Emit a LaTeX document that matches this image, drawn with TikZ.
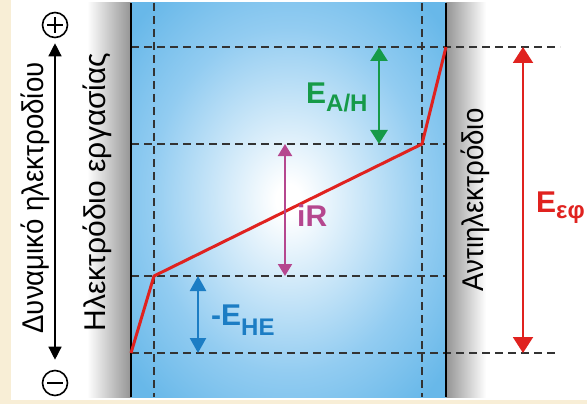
\documentclass[tikz,border=0pt]{standalone}
\usepackage{fontspec}
\setmainfont{Liberation Sans}
\newfontfamily\narrowfont{Liberation Sans}[FakeStretch=0.92]
\usetikzlibrary{arrows.meta}
\definecolor{cream}{RGB}{248,238,214}
\definecolor{cellblue}{RGB}{104,184,233}
\definecolor{cellmid}{RGB}{146,204,241}
\definecolor{linered}{RGB}{224,34,31}
\definecolor{ahgreen}{RGB}{22,154,72}
\definecolor{irpink}{RGB}{181,71,143}
\definecolor{heblue}{RGB}{28,125,196}
\pgfdeclareradialshading{cellglow}{\pgfpoint{0bp}{0bp}}{color(0bp)=(white); color(2bp)=(white); color(22bp)=(cellmid); color(33bp)=(cellblue); color(50bp)=(cellblue)}
\newcommand\esub[3][9pt]{#2\raisebox{-#1}{\fontsize{24}{24}\selectfont #3}}

\begin{document}
\begin{tikzpicture}[x=1pt,y=-1pt,
    level/.style={black!80,line width=1.8pt,dash pattern=on 8pt off 5pt},
    electrode/.style={line width=2pt},
    sign/.style={circle,draw,line width=1.6pt,minimum size=25pt,inner sep=0pt},
    span/.style={line width=#1},
    big/.style={font=\fontsize{30}{30}\selectfont\bfseries,inner sep=0pt,anchor=base west},
    side/.style={font=\fontsize{30}{30}\selectfont,rotate=90,anchor=base,inner sep=0pt}]
  \useasboundingbox (0,0) rectangle (587,404);
  % paper and panel
  \fill[cream] (0,0) rectangle (587,404);
  \fill[white] (11,0) rectangle (587,400);
  \shade[shading=cellglow] (131,3) rectangle (446,397);
  \shade[left color=white,right color=black!42] (87,3) rectangle (131,397);
  \shade[left color=black!42,right color=white] (446,3) rectangle (486,397);
  % levels
  \coordinate (we) at (131,353);
  \coordinate (wk) at (154,276);
  \coordinate (ck) at (422,144);
  \coordinate (ce) at (446,47);
  \foreach \x in {154,422} { \draw[level] (\x,3) -- (\x,397); }
  \draw[level] (131,47) -- (560,47);
  \draw[level] (131,353) -- (557,353);
  \foreach \y in {144,276} { \draw[level] (131,\y) -- (446,\y); }
  \draw[electrode] (131,3) -- (131,397);
  \draw[electrode] (446,3) -- (446,397);
  % potential profile
  \draw[linered,line width=3pt,line join=round] (we) -- (wk) -- (ck) -- (ce);
  % spans
  \coordinate (ga) at (379,47);  \coordinate (gb) at (379,144);
  \coordinate (ma) at (285,144); \coordinate (mb) at (285,276);
  \coordinate (ba) at (198,276); \coordinate (bb) at (198,353);
  \coordinate (ra) at (523,47);  \coordinate (rb) at (523,353);
  \draw[ahgreen,span=2.6pt,{Triangle[width=17pt,length=14pt]}-{Triangle[width=17pt,length=14pt]}] (ga) -- (gb);
  \draw[irpink,span=2pt,{Triangle[width=14pt,length=12pt]}-{Triangle[width=14pt,length=12pt]}] (ma) -- (mb);
  \draw[heblue,span=2.4pt,{Triangle[width=16pt,length=15pt]}-{Triangle[width=16pt,length=15pt]}] (ba) -- (bb);
  \draw[linered,span=2pt,{Triangle[width=20pt,length=16pt]}-{Triangle[width=20pt,length=16pt]}] (ra) -- (rb);
  \node[big,ahgreen] (eah) at (306,103) {\esub{E}{A/H}};
  \node[big,irpink] (ir) at (297,226) {iR};
  \node[big,heblue] (ehe) at (211,325) {\esub[10pt]{-E}{HE}};
  \node[big,linered] (eef) at (536,212) {\esub[6pt]{E}{εφ}};
  % potential axis
  \node[sign] (pos) at (55,25) {};
  \node[sign] (neg) at (55,383) {};
  \draw[line width=1.6pt] ([xshift=-8pt]pos.center) -- ([xshift=8pt]pos.center);
  \draw[line width=1.6pt] ([yshift=-8pt]pos.center) -- ([yshift=8pt]pos.center);
  \draw[line width=1.6pt] ([xshift=-8pt]neg.center) -- ([xshift=8pt]neg.center);
  \draw[line width=1.4pt,{Triangle[width=13pt,length=13pt]}-{Triangle[width=13pt,length=13pt]}] ([yshift=-5pt]pos.south) -- ([yshift=10pt]neg.north);
  \node[side,font=\fontsize{30}{30}\narrowfont] (pot) at (43,198) {Δυναμικό ηλεκτροδίου};
  \node[side] (work) at (105,192) {Ηλεκτρόδιο εργασίας};
  \node[side,font=\fontsize{30}{30}\narrowfont] (counter) at (483,200) {Αντιηλεκτρόδιο};
\end{tikzpicture}
\end{document}
